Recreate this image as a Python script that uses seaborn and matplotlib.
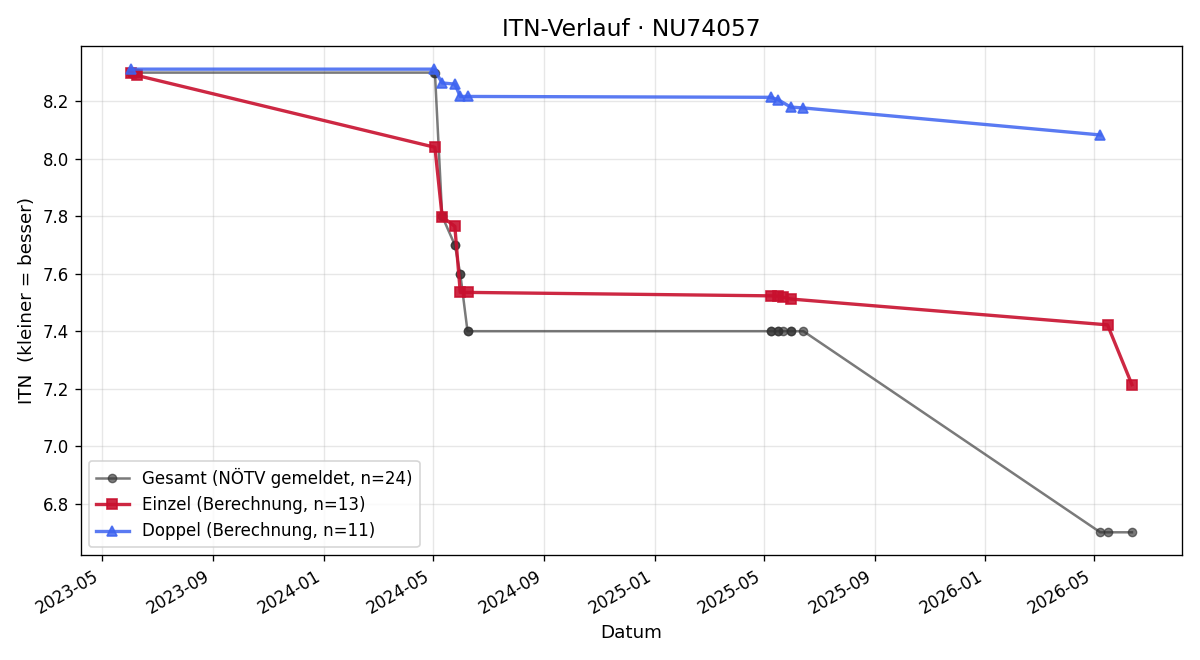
import matplotlib
matplotlib.use("Agg")
import matplotlib.pyplot as plt
import matplotlib.dates as mdates
import pandas as pd
import seaborn as sns

# --- data -------------------------------------------------------------
gesamt_dates = ["2023-06-02", "2023-06-02", "2023-06-09", "2024-05-02", "2024-05-03",
                "2024-05-11", "2024-05-11", "2024-05-25", "2024-05-25", "2024-05-31",
                "2024-05-31", "2024-06-08", "2024-06-08", "2025-05-09", "2025-05-09",
                "2025-05-17", "2025-05-17", "2025-05-23", "2025-05-31", "2025-05-31",
                "2025-06-14", "2026-05-08", "2026-05-16", "2026-06-12"]
gesamt_vals = [8.30, 8.30, 8.30, 8.30, 8.30,
               7.80, 7.80, 7.70, 7.70, 7.60,
               7.60, 7.40, 7.40, 7.40, 7.40,
               7.40, 7.40, 7.40, 7.40, 7.40,
               7.40, 6.70, 6.70, 6.70]

einzel_dates = ["2023-06-02", "2023-06-09", "2024-05-03", "2024-05-11", "2024-05-25",
                "2024-05-31", "2024-06-08", "2025-05-09", "2025-05-17", "2025-05-23",
                "2025-05-31", "2026-05-16", "2026-06-12"]
einzel_vals = [8.300, 8.290, 8.040, 7.798, 7.765,
               7.535, 7.535, 7.523, 7.522, 7.518,
               7.512, 7.422, 7.214]

doppel_dates = ["2023-06-02", "2024-05-02", "2024-05-11", "2024-05-25", "2024-05-31",
                "2024-06-08", "2025-05-09", "2025-05-17", "2025-05-31", "2025-06-14",
                "2026-05-08"]
doppel_vals = [8.312, 8.312, 8.264, 8.260, 8.217,
               8.217, 8.214, 8.206, 8.180, 8.177,
               8.083]

labels = ["Gesamt (NÖTV gemeldet, n=24)",
          "Einzel (Berechnung, n=13)",
          "Doppel (Berechnung, n=11)"]
title = "ITN-Verlauf · NU74057"

# --- plot -------------------------------------------------------------
plt.rcParams['font.family'] = ['DejaVu Sans']

fig, ax = plt.subplots(figsize=(10, 5.5), dpi=120)

df_g = pd.DataFrame({"Datum": pd.to_datetime(gesamt_dates), "ITN": gesamt_vals})
df_e = pd.DataFrame({"Datum": pd.to_datetime(einzel_dates), "ITN": einzel_vals})
df_d = pd.DataFrame({"Datum": pd.to_datetime(doppel_dates), "ITN": doppel_vals})

sns.lineplot(data=df_g, x="Datum", y="ITN", ax=ax, estimator=None, sort=False,
             color="#333333", alpha=0.65, linewidth=1.5, marker="o", markersize=5,
             markeredgewidth=0.8, markeredgecolor="#333333", label=labels[0])
sns.lineplot(data=df_e, x="Datum", y="ITN", ax=ax, estimator=None, sort=False,
             color="#c8102e", alpha=0.9, linewidth=2.0, marker="s", markersize=6.5,
             markeredgewidth=1, markeredgecolor="#c8102e", label=labels[1])
sns.lineplot(data=df_d, x="Datum", y="ITN", ax=ax, estimator=None, sort=False,
             color="#3d63f0", alpha=0.85, linewidth=2.0, marker="^", markersize=6.5,
             markeredgewidth=1, markeredgecolor="#3d63f0", label=labels[2])

ax.set_title(title, fontsize=14)
ax.set_xlabel("Datum", fontsize=11)
ax.set_ylabel("ITN  (kleiner = besser)", fontsize=11)
ax.tick_params(labelsize=10)
ax.grid(True, alpha=0.3)
ax.xaxis.set_major_locator(mdates.MonthLocator(bymonth=[1, 5, 9]))
ax.xaxis.set_major_formatter(mdates.DateFormatter("%Y-%m"))
ax.legend(loc="lower left", fontsize=10)
fig.autofmt_xdate()
fig.tight_layout()
fig.savefig("out.png", dpi=120)
